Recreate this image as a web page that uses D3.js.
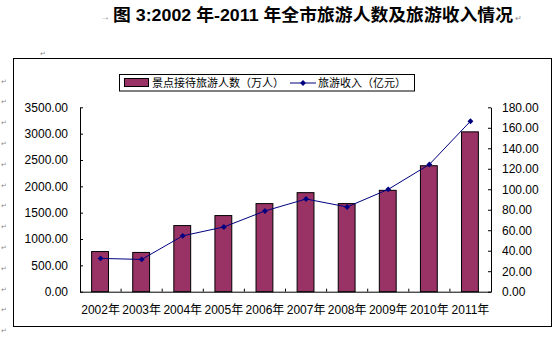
<!DOCTYPE html>
<html>
<head>
<meta charset="utf-8">
<script src="https://cdn.jsdelivr.net/npm/d3@7/dist/d3.min.js"></script>
<style>
  html, body { margin: 0; padding: 0; background: #fff; }
  svg { display: block; }
  text { font-family: "Liberation Sans", Arial, "Noto Sans CJK SC", sans-serif; }
</style>
</head>
<body>
<svg id="chart" width="560" height="338"></svg>
<script>
const years = ["2002年","2003年","2004年","2005年","2006年","2007年","2008年","2009年","2010年","2011年"];
const visitors = [762, 745, 1255, 1445, 1672, 1880, 1672, 1924, 2391, 3034];
const income = [32.5, 31.5, 54.5, 63.2, 78.8, 90.5, 82.7, 99.9, 124.2, 166.4];
const leftTicks = [0, 500, 1000, 1500, 2000, 2500, 3000, 3500];
const rightTicks = [0, 20, 40, 60, 80, 100, 120, 140, 160, 180];
const titleText = "图 3:2002 年-2011 年全市旅游人数及旅游收入情况";
const seriesNames = ["景点接待旅游人数（万人）", "旅游收入（亿元）"];

const svg = d3.select("#chart");
const cjk = '"Noto Sans CJK SC", "Liberation Sans", sans-serif';
const markColor = "#8c8c8c";

const plot = { left: 80, right: 491, top: 107.3, bottom: 291.7 };

const x = d3.scaleBand().domain(years).range([plot.left, plot.right]).padding(0);
const yL = d3.scaleLinear().domain([0, 3500]).range([plot.bottom, plot.top]);
const yR = d3.scaleLinear().domain([0, 180]).range([plot.bottom, plot.top]);

// Word formatting marks
svg.append("text").attr("x", 100).attr("y", 16).attr("font-size", 10)
  .attr("fill", markColor).attr("dominant-baseline", "central").text("→");
svg.append("text").attr("x", 113).attr("y", 15)
  .attr("font-family", cjk).attr("font-weight", "bold").attr("font-size", 17)
  .attr("textLength", 400).attr("lengthAdjust", "spacingAndGlyphs")
  .attr("dominant-baseline", "central").attr("fill", "#000").text(titleText);
svg.append("text").attr("x", 515).attr("y", 18).attr("font-size", 8)
  .attr("fill", markColor).attr("dominant-baseline", "central").text("↵");
svg.append("text").attr("x", 40).attr("y", 53).attr("font-size", 7)
  .attr("fill", markColor).attr("dominant-baseline", "central").text("↵");
for (let i = 0; i < 13; i++) {
  svg.append("text").attr("x", 1).attr("y", 81 + i * 20.8).attr("font-size", 7)
    .attr("fill", markColor).attr("dominant-baseline", "central").text("↵");
}

// chart border
svg.append("rect").attr("x", 13.5).attr("y", 58.5).attr("width", 538).attr("height", 268)
  .attr("fill", "#fff").attr("stroke", "#000").attr("stroke-width", 1);

// bars
const bw = x.bandwidth() * 0.41;
svg.append("g").selectAll("rect").data(years).join("rect")
  .attr("x", d => x(d) + x.bandwidth() / 2 - bw / 2 - 0.5)
  .attr("y", (d, i) => yL(visitors[i]))
  .attr("width", bw)
  .attr("height", (d, i) => yL(0) - yL(visitors[i]))
  .attr("fill", "#993366").attr("stroke", "#000").attr("stroke-width", 1);

// axes
const fmt = d3.format(".2f");
const axL = svg.append("g").attr("transform", `translate(${plot.left},0)`)
  .call(d3.axisLeft(yL).tickValues(leftTicks).tickFormat(fmt).tickSizeInner(-3).tickSizeOuter(0).tickPadding(12));
const axR = svg.append("g").attr("transform", `translate(${plot.right},0)`)
  .call(d3.axisRight(yR).tickValues(rightTicks).tickFormat(fmt).tickSizeInner(-3).tickSizeOuter(0).tickPadding(11));
const axB = svg.append("g").attr("transform", `translate(0,${plot.bottom})`)
  .call(d3.axisBottom(x).tickSize(0).tickPadding(14));
[axL, axR, axB].forEach(g => {
  g.selectAll("path, line").attr("stroke", "#000").attr("stroke-width", 1);
  g.selectAll("text").attr("font-size", 12).attr("fill", "#000")
    .attr("font-family", '"Liberation Sans", Arial, "Noto Sans CJK SC", sans-serif');
});
// category boundary ticks pointing up
svg.append("g").selectAll("line").data(years.slice(1)).join("line")
  .attr("x1", d => x(d)).attr("x2", d => x(d))
  .attr("y1", plot.bottom).attr("y2", plot.bottom - 3)
  .attr("stroke", "#000");

// line series
const line = d3.line().x((d, i) => x(years[i]) + x.bandwidth() / 2).y(d => yR(d));
svg.append("path").datum(income).attr("d", line)
  .attr("fill", "none").attr("stroke", "#000080").attr("stroke-width", 1);
const diamond = d3.symbol().type(d3.symbolDiamond2).size(22);
svg.append("g").selectAll("path").data(income).join("path")
  .attr("transform", (d, i) => `translate(${x(years[i]) + x.bandwidth() / 2},${yR(d)})`)
  .attr("d", diamond).attr("fill", "#000080");

// legend
const lg = svg.append("g");
lg.append("rect").attr("x", 119.5).attr("y", 74.5).attr("width", 295).attr("height", 16.5)
  .attr("fill", "#fff").attr("stroke", "#000");
lg.append("rect").attr("x", 124.5).attr("y", 78.5).attr("width", 24).attr("height", 8)
  .attr("fill", "#993366").attr("stroke", "#000");
lg.append("text").attr("x", 152).attr("y", 83).attr("dominant-baseline", "central")
  .attr("font-family", cjk).attr("font-size", 11).text(seriesNames[0]);
lg.append("line").attr("x1", 290).attr("x2", 316).attr("y1", 83).attr("y2", 83)
  .attr("stroke", "#000080");
lg.append("path").attr("transform", "translate(303,83)").attr("d", diamond).attr("fill", "#000080");
lg.append("text").attr("x", 318).attr("y", 83).attr("dominant-baseline", "central")
  .attr("font-family", cjk).attr("font-size", 11).text(seriesNames[1]);
</script>
</body>
</html>
